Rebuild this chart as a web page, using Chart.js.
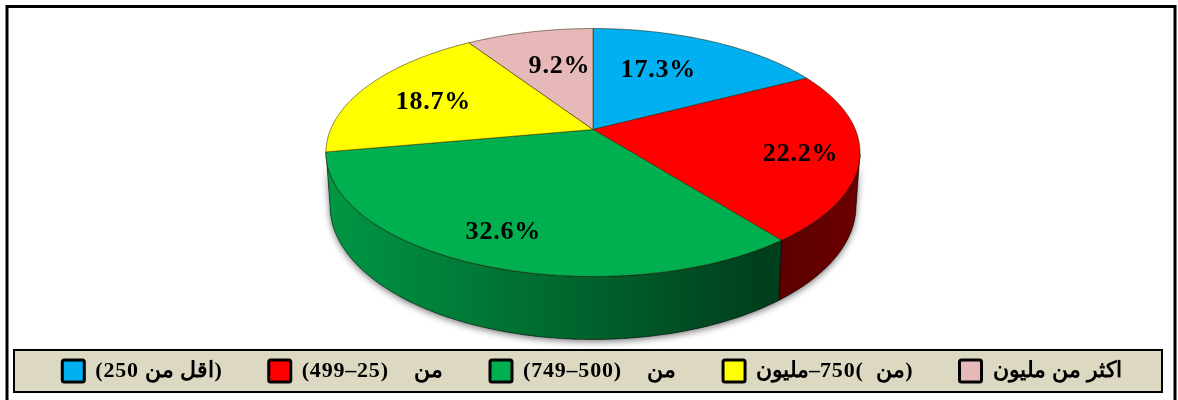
<!DOCTYPE html>
<html>
<head>
<meta charset="utf-8">
<style>
  html, body { margin: 0; padding: 0; background: #fff; }
  canvas { display: block; }
</style>
<script src="https://cdn.jsdelivr.net/npm/chart.js@4"></script>
</head>
<body>
<canvas id="myChart" width="1178" height="400"></canvas>
<script>
"use strict";

const categories = ["(اقل من 250)", "من    (25–499)", "من    (500–749)", "(من  )750–مليون", "اكثر من مليون"];
const shares = [17.3, 22.2, 32.6, 18.7, 9.2];
const sliceColors = ["#00B0F0", "#FF0000", "#00B050", "#FFFF00", "#E6B8B7"];
const labelNudges = [[-9, -3], [50, 9], [-27, 28], [-21, 0], [7, -1]];

// perspective of the pie top, px
const pieWidth = 262.4;
const pieHeight = 119.7;
const tilt = -0.1855;
const apexLift = 27;
const wallDepth = 51.3;
const wallShrink = 0.985;
const wallFrom = 0.18; // the side wall only shows below this point of the rim

const project = (el, u, v) => {
  const d = 1 + tilt * v;
  return { x: el.x + (pieWidth * u) / d, y: el.y - apexLift + (pieHeight * v) / d };
};
const projectBottom = (el, u, v) => {
  const p = project(el, u, v);
  return { x: el.x + (p.x - el.x) * wallShrink, y: p.y + wallDepth / (1 + tilt * v) };
};
const arcAngles = (el) => {
  const angles = [];
  const steps = 80;
  for (let i = 0; i <= steps; i++) {
    angles.push(el.startAngle + ((el.endAngle - el.startAngle) * i) / steps);
  }
  return angles;
};
const tracePoints = (ctx, pts) => {
  pts.forEach((p) => ctx.lineTo(p.x, p.y));
};

class Slice3D extends Chart.ArcElement {
  static id = "slice3d";

  draw(ctx) {
    const c = project(this, 0, 0);
    ctx.save();
    ctx.beginPath();
    ctx.moveTo(c.x, c.y);
    tracePoints(ctx, arcAngles(this).map((a) => project(this, Math.cos(a), Math.sin(a))));
    ctx.closePath();
    ctx.fillStyle = this.options.backgroundColor;
    ctx.fill();
    ctx.strokeStyle = "rgba(40,30,0,0.75)";
    ctx.lineWidth = 0.7;
    ctx.stroke();
    ctx.restore();
  }

  drawWall(ctx, shadowOnly) {
    const angles = arcAngles(this).filter((a) => Math.sin(a) >= wallFrom);
    if (angles.length < 2) {
      return;
    }
    const top = angles.map((a) => project(this, Math.cos(a), Math.sin(a)));
    const bottom = angles.map((a) => projectBottom(this, Math.cos(a), Math.sin(a))).reverse();
    ctx.save();
    ctx.beginPath();
    ctx.moveTo(top[0].x, top[0].y);
    tracePoints(ctx, top);
    tracePoints(ctx, bottom);
    ctx.closePath();
    if (shadowOnly) {
      ctx.shadowColor = "rgba(0,0,0,0.55)";
      ctx.shadowBlur = 7;
      ctx.shadowOffsetY = 2;
      ctx.fillStyle = "#555";
      ctx.fill();
    } else {
      const g = ctx.createLinearGradient(this.x - pieWidth, 0, this.x + pieWidth, 0);
      const col = Chart.helpers.color(this.options.backgroundColor).rgb;
      const shade = (f) => `rgb(${col.r * f},${col.g * f},${col.b * f})`;
      g.addColorStop(0, shade(0.85));
      g.addColorStop(0.83, shade(0.35));
      g.addColorStop(1, shade(0.42));
      ctx.fillStyle = g;
      ctx.fill();
      ctx.strokeStyle = "rgba(0,0,0,0.7)";
      ctx.lineWidth = 0.7;
      ctx.stroke();
    }
    ctx.restore();
  }
}
Chart.register(Slice3D);
Chart.defaults.datasets.pie.dataElementType = "slice3d";

const framePlugin = {
  id: "frame",
  beforeLayout(chart) {
    chart.ctx.letterSpacing = "0.8px";
  },
  beforeDraw(chart) {
    const ctx = chart.ctx;
    const boxTop = chart.legend.bottom - 42;
    ctx.save();
    ctx.fillStyle = "#fff";
    ctx.fillRect(0, 0, chart.width, chart.height);
    ctx.strokeStyle = "#000";
    ctx.lineWidth = 3;
    ctx.beginPath();
    ctx.moveTo(7, chart.height);
    ctx.lineTo(7, 6.5);
    ctx.lineTo(1175, 6.5);
    ctx.lineTo(1175, chart.height);
    ctx.stroke();
    ctx.fillStyle = "#DDD8C2";
    ctx.fillRect(14, boxTop, 1148, 42);
    ctx.lineWidth = 2;
    ctx.strokeRect(14, boxTop, 1148, 42);
    ctx.restore();
  },
};

const wallsPlugin = {
  id: "walls",
  beforeDatasetsDraw(chart) {
    const arcs = chart.getDatasetMeta(0).data;
    arcs.forEach((el) => el.drawWall(chart.ctx, true));
    arcs.forEach((el) => el.drawWall(chart.ctx, false));
  },
};

const percentPlugin = {
  id: "percentLabels",
  afterDatasetsDraw(chart) {
    const ctx = chart.ctx;
    ctx.save();
    ctx.font = "bold 26px 'Liberation Serif'";
    ctx.fillStyle = "#000";
    ctx.textAlign = "center";
    ctx.textBaseline = "middle";
    chart.getDatasetMeta(0).data.forEach((el, i) => {
      const mid = (el.startAngle + el.endAngle) / 2;
      const p = project(el, 0.6 * Math.cos(mid), 0.6 * Math.sin(mid));
      const [dx, dy] = labelNudges[i];
      ctx.fillText(shares[i].toFixed(1) + "%", p.x + dx, p.y + dy);
    });
    ctx.restore();
  },
};

new Chart(document.getElementById("myChart"), {
  type: "pie",
  data: {
    labels: categories,
    datasets: [{ data: shares, backgroundColor: sliceColors }],
  },
  options: {
    responsive: false,
    animation: false,
    layout: { padding: { left: 8, bottom: 8 } },
    plugins: {
      tooltip: { enabled: false },
      legend: {
        position: "bottom",
        textDirection: "rtl",
        labels: {
          boxWidth: 22,
          boxHeight: 22,
          padding: 47,
          color: "#000",
          font: { family: "'Liberation Serif'", size: 22, weight: "bold" },
          generateLabels() {
            return categories.map((text, i) => ({
              text,
              fillStyle: sliceColors[i],
              strokeStyle: "#000",
              lineWidth: 3,
              borderRadius: 2,
              index: i,
            }));
          },
        },
      },
    },
  },
  plugins: [framePlugin, wallsPlugin, percentPlugin],
});
</script>
</body>
</html>
